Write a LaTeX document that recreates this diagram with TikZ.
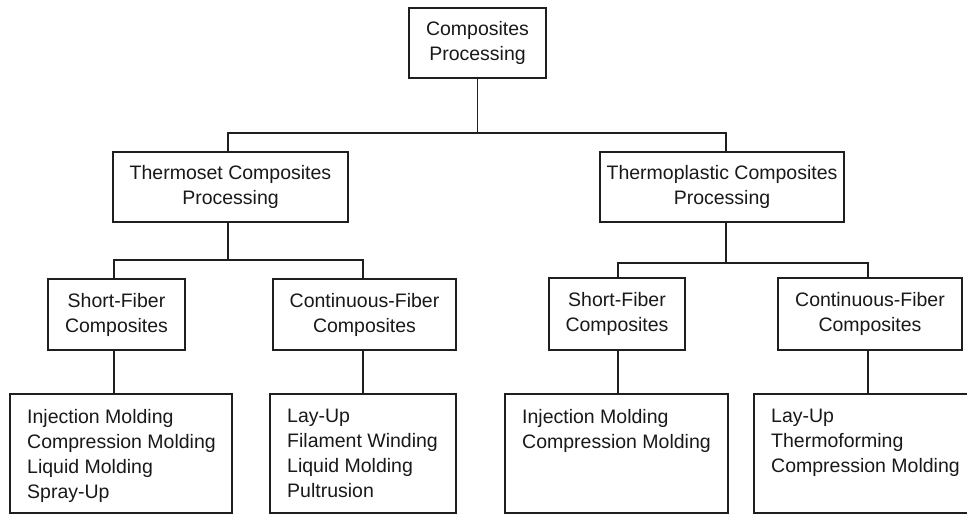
\documentclass[tikz,border=0pt]{standalone}
\usepackage{fontspec}
\setmainfont{Liberation Sans}
\begin{document}
\begin{tikzpicture}[x=1pt,y=-1pt,
  box/.style={draw=black!88, line width=2pt, align=center, inner sep=0pt, text=black!90,
    font=\fontsize{19.5}{25}\selectfont},
  bbox/.style={draw=black!88, line width=2pt, inner sep=0pt, anchor=north west, minimum height=119},
  list/.style={align=left, inner sep=0pt, anchor=north west, text=black!90,
    font=\fontsize{19.5}{25}\selectfont},
  conn/.style={line width=1.9pt, draw=black!88}]
\clip (0,0) rectangle (967,514);
\fill[white] (0,0) rectangle (967,514);
% level 0
\node[box, minimum width=137, minimum height=70] (top) at (477.5,43) {Composites\\Processing};
% level 1
\node[box, minimum width=235, minimum height=70] (ts) at (230.5,187) {Thermoset Composites\\Processing};
\node[box, minimum width=244, minimum height=70] (tp) at (722,187) {Thermoplastic Composites\\Processing};
% level 2
\node[box, minimum width=137, minimum height=71] (sfl) at (116.5,314.5) {Short-Fiber\\Composites};
\node[box, minimum width=183, minimum height=71] (cfl) at (364.5,314.5) {Continuous-Fiber\\Composites};
\node[box, minimum width=136, minimum height=72] (sfr) at (617,314) {Short-Fiber\\Composites};
\node[box, minimum width=184, minimum height=72] (cfr) at (870,314) {Continuous-Fiber\\Composites};
% level 3 boxes
\node[bbox, minimum width=222] (b1) at (9,393) {};
\node[bbox, minimum width=186] (b2) at (269,393) {};
\node[bbox, minimum width=223] (b3) at (504,393) {};
\node[bbox, minimum width=250] (b4) at (753,393) {};
% level 3 texts
\node[list] (t1) at ([shift={(18,16)}]b1.north west) {Injection Molding\\Compression Molding\\Liquid Molding\\Spray-Up};
\node[list] (t2) at ([shift={(18,16)}]b2.north west) {Lay-Up\\Filament Winding\\Liquid Molding\\Pultrusion};
\node[list] (t3) at ([shift={(18,16)}]b3.north west) {Injection Molding\\Compression Molding};
\node[list] (t4) at ([shift={(18,16)}]b4.north west) {Lay-Up\\Thermoforming\\Compression Molding};
% connectors
\coordinate (j0) at (477.5,133);
\draw[conn] (top.south) -- (j0);
\draw[conn] (j0) -| ([xshift=-2.5]ts.north);
\draw[conn] (j0) -| ([xshift=4]tp.north);
\coordinate (j1) at (228,260);
\draw[conn] ([xshift=-2.5]ts.south) -- (j1);
\draw[conn] (j1) -| ([xshift=-2.5]sfl.north);
\draw[conn] (j1) -| ([xshift=-1.5]cfl.north);
\coordinate (j2) at (726,263);
\draw[conn] ([xshift=4]tp.south) -- (j2);
\draw[conn] (j2) -| ([xshift=1]sfr.north);
\draw[conn] (j2) -| ([xshift=-2]cfr.north);
\draw[conn] ([xshift=-2.5]sfl.south) -- ([xshift=-2.5]sfl.south |- b1.north);
\draw[conn] ([xshift=-1.5]cfl.south) -- ([xshift=-1.5]cfl.south |- b2.north);
\draw[conn] ([xshift=1]sfr.south) -- ([xshift=1]sfr.south |- b3.north);
\draw[conn] ([xshift=-2]cfr.south) -- ([xshift=-2]cfr.south |- b4.north);
\end{tikzpicture}
\end{document}
